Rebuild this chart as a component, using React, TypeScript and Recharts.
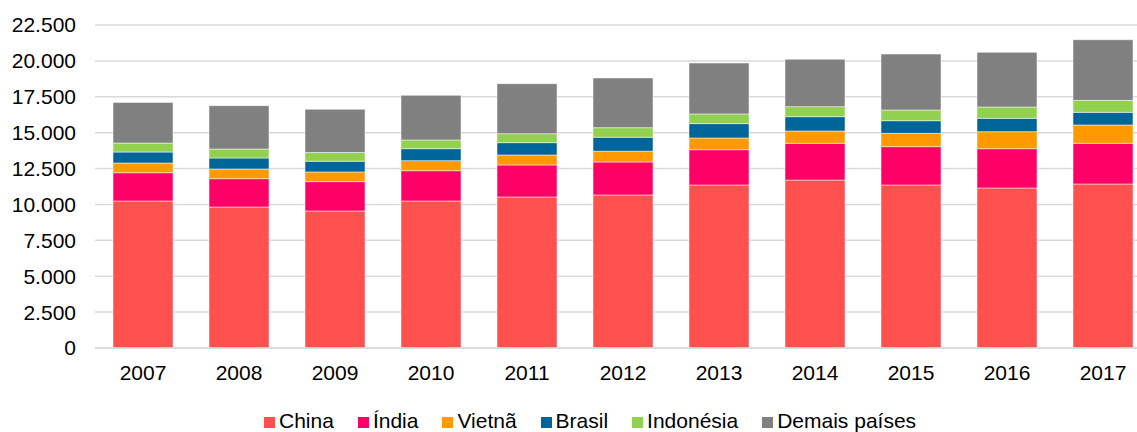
import React from "react";
import { BarChart, Bar, XAxis, YAxis, CartesianGrid } from "recharts";

const years = ["2007", "2008", "2009", "2010", "2011", "2012", "2013", "2014", "2015", "2016", "2017"];
const china = [10240, 9820, 9545, 10240, 10520, 10660, 11355, 11700, 11355, 11145, 11425];
const india = [1970, 1975, 2045, 2110, 2230, 2300, 2460, 2555, 2670, 2740, 2830];
const vietna = [675, 675, 675, 700, 695, 745, 815, 860, 930, 1185, 1280];
const brasil = [765, 765, 745, 835, 860, 975, 1000, 1000, 880, 930, 880];
const indonesia = [625, 625, 605, 605, 625, 670, 675, 695, 740, 785, 835];
const demais = [2835, 3020, 3015, 3110, 3485, 3460, 3550, 3300, 3900, 3810, 4225];
const yTicks = [0, 2500, 5000, 7500, 10000, 12500, 15000, 17500, 20000, 22500];

const seriesDefs = [
  { key: "China", values: china, color: "#FF5050" },
  { key: "Índia", values: india, color: "#FF0066" },
  { key: "Vietnã", values: vietna, color: "#FF9900" },
  { key: "Brasil", values: brasil, color: "#006699" },
  { key: "Indonésia", values: indonesia, color: "#92D050" },
  { key: "Demais países", values: demais, color: "#808080" },
];

const data = years.map((y, i) => {
  const row: Record<string, string | number> = { year: y };
  seriesDefs.forEach((s) => {
    row[s.key] = s.values[i];
  });
  return row;
});

const fmt = (v: number) => v.toString().replace(/\B(?=(\d{3})+(?!\d))/g, ".");

const FONT = "'Liberation Sans', Arial, sans-serif";

export default function App() {
  return (
    <div style={{ position: "absolute", left: 0, top: 0, width: 1137, height: 432, overflow: "hidden", background: "#fff" }}>
      <BarChart
        width={1160}
        height={432}
        data={data}
        margin={{ top: 25, right: 9, bottom: 54, left: 0 }}
      >
        <CartesianGrid vertical={false} stroke="#d9d9d9" strokeWidth={1.5} />
        <XAxis
          dataKey="year"
          axisLine={{ stroke: "#d9d9d9", strokeWidth: 1.5 }}
          tickLine={false}
          tickSize={0}
          tickMargin={17}
          height={30}
          tick={{ fill: "#000", fontSize: 21, fontFamily: FONT }}
        />
        <YAxis
          domain={[0, 22500]}
          ticks={yTicks}
          interval={0}
          width={95}
          axisLine={false}
          tickLine={false}
          tickSize={0}
          tickMargin={19}
          tickFormatter={fmt}
          tick={{ fill: "#000", fontSize: 21, fontFamily: FONT }}
        />
        {seriesDefs.map((s) => (
          <Bar
            key={s.key}
            dataKey={s.key}
            stackId="a"
            fill={s.color}
            barSize={60}
            stroke="#ffffff"
            strokeWidth={0.5}
            isAnimationActive={false}
          />
        ))}
      </BarChart>
      <div
        style={{
          position: "absolute",
          left: 264,
          top: 410,
          display: "flex",
          alignItems: "center",
          fontFamily: FONT,
          fontSize: 21,
          color: "#000",
          whiteSpace: "nowrap",
        }}
      >
        {seriesDefs.map((s) => (
          <div key={s.key} style={{ display: "flex", alignItems: "center", marginRight: 24 }}>
            <span
              style={{
                display: "inline-block",
                width: 11,
                height: 11,
                background: s.color,
                marginRight: 4,
                position: "relative",
                top: 1.5,
              }}
            />
            <span style={{ lineHeight: "22px" }}>{s.key}</span>
          </div>
        ))}
      </div>
    </div>
  );
}
